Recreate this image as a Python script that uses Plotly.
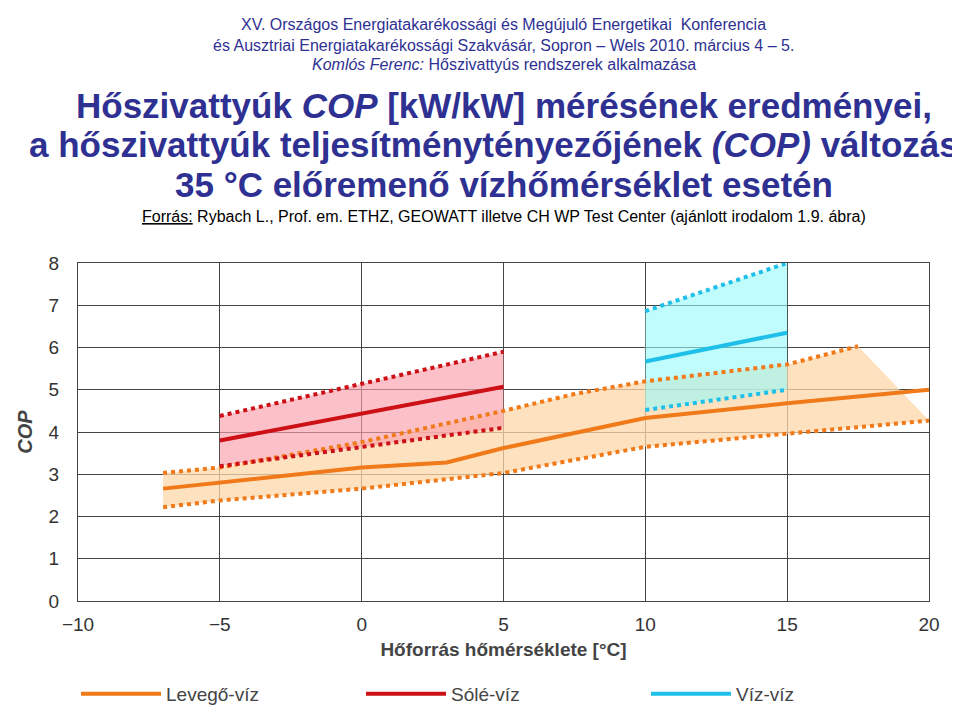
import plotly.graph_objects as go

# Levegő-víz (air-water)
air_x = [-7, -5, 0, 3, 5, 10, 15, 20]
air_mid = [2.66, 2.8, 3.16, 3.28, 3.62, 4.33, 4.68, 5.0]
air_up_x = [-7, -5, 0, 5, 7.5, 10, 15, 17.5]
air_up = [3.03, 3.16, 3.76, 4.5, 4.9, 5.2, 5.6, 6.03]
air_lo_x = [-7, -5, 0, 5, 10, 15, 20]
air_lo = [2.22, 2.38, 2.66, 3.03, 3.65, 3.95, 4.27]

# Sólé-víz (brine-water)
brine_x = [-5, 5]
brine_mid = [3.8, 5.07]
brine_up = [4.38, 5.9]
brine_lo = [3.19, 4.1]

# Víz-víz (water-water)
water_x = [10, 15]
water_mid = [5.67, 6.35]
water_up = [6.86, 8.0]
water_lo = [4.52, 5.0]

ORANGE = "#f07a1a"
RED = "#cc1016"
CYAN = "#1ec0ea"
BLUE = "#2e3192"

PLOT_TOP = 255
PLOT_H = 349

fig = go.Figure()

# fills
fig.add_trace(go.Scatter(
    x=air_up_x + air_lo_x[::-1], y=air_up + air_lo[::-1],
    fill="toself", fillcolor="rgba(253,215,170,0.75)", line=dict(width=0),
    mode="lines", showlegend=False, hoverinfo="skip"))
fig.add_trace(go.Scatter(
    x=brine_x + brine_x[::-1], y=brine_up + brine_lo[::-1],
    fill="toself", fillcolor="rgba(250,160,170,0.65)", line=dict(width=0),
    mode="lines", showlegend=False, hoverinfo="skip"))
fig.add_trace(go.Scatter(
    x=water_x + water_x[::-1], y=water_up + water_lo[::-1],
    fill="toself", fillcolor="rgba(150,250,250,0.6)", line=dict(width=0),
    mode="lines", showlegend=False, hoverinfo="skip"))

# dotted bounds
for xs, ys, c in [(air_up_x, air_up, ORANGE), (air_lo_x, air_lo, ORANGE),
                  (brine_x, brine_up, RED), (brine_x, brine_lo, RED),
                  (water_x, water_up, CYAN), (water_x, water_lo, CYAN)]:
    fig.add_trace(go.Scatter(x=xs, y=ys, mode="lines",
                             line=dict(color=c, width=4, dash="dot"),
                             showlegend=False, hoverinfo="skip"))

# solid lines
fig.add_trace(go.Scatter(x=air_x, y=air_mid, mode="lines", name="Levegő-víz",
                         line=dict(color=ORANGE, width=4)))
fig.add_trace(go.Scatter(x=brine_x, y=brine_mid, mode="lines", name="Sólé-víz",
                         line=dict(color=RED, width=4)))
fig.add_trace(go.Scatter(x=water_x, y=water_mid, mode="lines", name="Víz-víz",
                         line=dict(color=CYAN, width=4)))

axis_font = dict(family="Liberation Sans", size=19, color="#333333")
fig.update_layout(
    width=960, height=717, plot_bgcolor="white", paper_bgcolor="white",
    margin=dict(l=70, r=39, t=PLOT_TOP, b=717 - PLOT_TOP - PLOT_H),
    font=dict(family="Liberation Sans"),
    xaxis=dict(range=[-10, 20], dtick=5, showgrid=True, gridcolor="#444444",
               gridwidth=1, zeroline=False, showline=True, linecolor="#444444",
               mirror=True, tickfont=axis_font, ticklabelstandoff=6,
               automargin=False,
               title=dict(text="<b>Hőforrás hőmérséklete [°C]</b>",
                          font=dict(size=19, color="#444444"), standoff=8)),
    yaxis=dict(range=[0, 8], dtick=1, showgrid=True, gridcolor="#444444",
               gridwidth=1, zeroline=False, showline=True, linecolor="#444444",
               mirror=True, tickfont=axis_font, ticklabelstandoff=14,
               automargin=False,
               title=dict(text="<b><i>COP</i></b>",
                          font=dict(size=20, color="#444444"), standoff=10)),
    legend=dict(orientation="h", x=0.5, xanchor="center",
                y=-(700 - PLOT_TOP - PLOT_H) / PLOT_H, yanchor="middle",
                font=dict(size=19, color="#444444"), itemwidth=80,
                entrywidth=190),
)


def ypx(px):
    return 1 + (PLOT_TOP - px) / PLOT_H


header = [
    (9, "XV. Országos Energiatakarékossági és Megújuló Energetikai  Konferencia", 16, BLUE),
    (30, "és Ausztriai Energiatakarékossági Szakvásár, Sopron – Wels 2010. március 4 – 5.", 16, BLUE),
    (50, "<i>Komlós Ferenc:</i> Hőszivattyús rendszerek alkalmazása", 16, BLUE),
    (92, "<b>Hőszivattyúk <i>COP</i> [kW/kW] mérésének eredményei,</b>", 35, BLUE),
    (133, "<b>a hőszivattyúk teljesítménytényezőjének <i>(COP)</i> változása</b>", 35, BLUE),
    (174, "<b>35 °C előremenő vízhőmérséklet esetén</b>", 35, BLUE),
    (207, "<u>Forrás:</u> Rybach L., Prof. em. ETHZ, GEOWATT illetve CH WP Test Center (ajánlott irodalom 1.9. ábra)", 16, "black"),
]
for px, t, s, c in header:
    fig.add_annotation(xref="paper", yref="paper", x=0.5, y=ypx(px),
                       xanchor="center", yanchor="middle", text=t,
                       showarrow=False, font=dict(size=s, color=c))

fig.write_html("out.html")
